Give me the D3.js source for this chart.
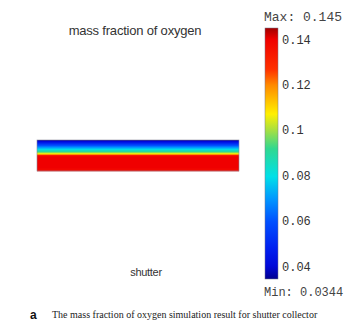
<html lang="en">
<head>
<style>
  body { margin: 0; background: #fff; }
  svg text { fill: #333; }
</style>
</head>
<body>
<script type='text/javascript' src='https://d3js.org/d3.v7.min.js'></script>
<script>
    // mass fraction per row of the shutter section, top to bottom
    var fieldRows = [0.036, 0.040, 0.045, 0.050, 0.055, 0.060, 0.065, 0.070, 0.075, 0.080,
                     0.085, 0.090, 0.097, 0.105, 0.118, 0.134, 0.139, 0.140, 0.140, 0.140,
                     0.140, 0.140, 0.140, 0.140, 0.140, 0.140, 0.140, 0.140, 0.139, 0.138, 0.137];
    var tickValues = [0.04, 0.06, 0.08, 0.1, 0.12, 0.14];
    var tickLabels = ["0.04", "0.06", "0.08", "0.1", "0.12", "0.14"];
    var minValue = 0.0344, maxValue = 0.145;
    var maxLabel = "Max: 0.145", minLabel = "Min: 0.0344";
    var titleText = "mass fraction of oxygen";
    var partLabel = "shutter";
    var captionLetter = "a";
    var captionText = "The mass fraction of oxygen simulation result for shutter collector";

    // colour map stops (value -> colour), jet-like
    var stopValues = [0.0344, 0.0352, 0.040, 0.048, 0.0597, 0.0698, 0.0795, 0.0918, 0.1001, 0.1071, 0.1198, 0.1268, 0.140, 0.145];
    var stopColors = ["#00008c", "#00009a", "#0008d8", "#0020f0", "#0050ff", "#0098ff", "#00e0e8", "#30d890", "#a8e040", "#fff000", "#ff8a00", "#ff3000", "#f00000", "#a00000"];
    var color = d3.scaleLinear().domain(stopValues).range(stopColors).clamp(true);

    var width = 345, height = 323;
    var svg = d3.select("body").append("svg")
        .attr("width", width)
        .attr("height", height);

    // field rectangle
    var x = d3.scaleLinear().domain([0, 1]).range([37, 239]);
    var y = d3.scaleBand().domain(d3.range(fieldRows.length)).range([140, 171]);
    svg.append("g").selectAll("rect")
        .data(fieldRows)
        .enter().append("rect")
        .attr("x", x(0))
        .attr("width", x(1) - x(0))
        .attr("y", function (d, i) { return y(i); })
        .attr("height", y.bandwidth() + 0.3)
        .attr("fill", function (d) { return color(d); });
    svg.append("rect")
        .attr("x", x(0)).attr("y", 140)
        .attr("width", x(1) - x(0)).attr("height", 31)
        .attr("fill", "none").attr("stroke", "#8a8a9a").attr("stroke-width", 0.6);

    svg.append("text")
        .attr("x", 135).attr("y", 35)
        .attr("text-anchor", "middle")
        .style("font-family", "Liberation Sans, Arial, sans-serif")
        .style("font-size", "13px")
        .style("letter-spacing", "-0.2px")
        .text(titleText);
    svg.append("text")
        .attr("x", 146).attr("y", 276)
        .attr("text-anchor", "middle")
        .style("font-family", "Liberation Sans, Arial, sans-serif")
        .style("font-size", "11px")
        .style("letter-spacing", "-0.3px")
        .text(partLabel);

    // colour bar
    var cy = d3.scaleLinear().domain([minValue, maxValue]).range([279, 28]);
    var grad = svg.append("defs").append("linearGradient")
        .attr("id", "bar").attr("x1", 0).attr("x2", 0).attr("y1", 1).attr("y2", 0);
    grad.selectAll("stop")
        .data(stopValues)
        .enter().append("stop")
        .attr("offset", function (d) { return (d - minValue) / (maxValue - minValue); })
        .attr("stop-color", function (d) { return color(d); });
    svg.append("rect")
        .attr("x", 265).attr("y", cy(maxValue))
        .attr("width", 13).attr("height", cy(minValue) - cy(maxValue))
        .attr("fill", "url(#bar)")
        .attr("stroke", "#7a7a8a").attr("stroke-width", 0.5);

    var axis = d3.axisRight(cy)
        .tickValues(tickValues)
        .tickSize(0)
        .tickPadding(4)
        .tickFormat(function (d, i) { return tickLabels[i]; });
    var ag = svg.append("g")
        .attr("transform", "translate(278,0)")
        .call(axis);
    ag.select(".domain").remove();
    ag.selectAll("text")
        .style("font-family", "Liberation Mono, monospace")
        .style("font-size", "12px")
        .attr("fill", "#444");

    svg.append("text")
        .attr("x", 264).attr("y", 21)
        .style("font-family", "Liberation Mono, monospace")
        .style("font-size", "13px")
        .style("fill", "#444")
        .text(maxLabel);
    svg.append("text")
        .attr("x", 264).attr("y", 296)
        .style("font-family", "Liberation Mono, monospace")
        .style("font-size", "12px")
        .style("fill", "#444")
        .text(minLabel);

    // caption
    svg.append("text")
        .attr("x", 30).attr("y", 319)
        .style("font-family", "Liberation Sans, Arial, sans-serif")
        .style("font-size", "12px")
        .style("font-weight", "bold")
        .style("fill", "#111")
        .text(captionLetter);
    svg.append("text")
        .attr("x", 52).attr("y", 318)
        .style("font-family", "Liberation Serif, serif")
        .style("font-size", "10px")
        .style("fill", "#222")
        .text(captionText);
</script>
</body>
</html>
